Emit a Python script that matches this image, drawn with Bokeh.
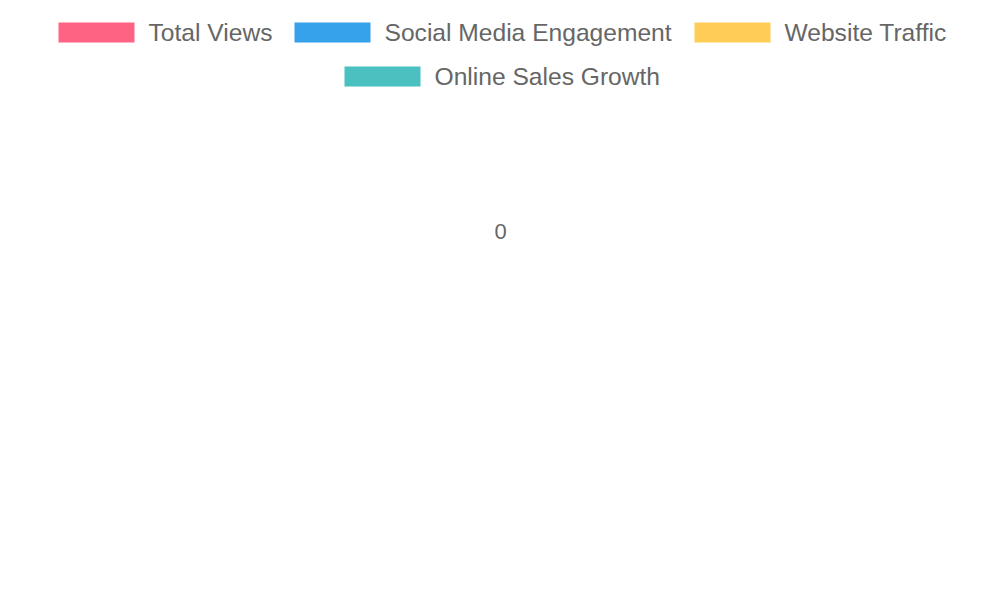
from bokeh.plotting import figure
from bokeh.models import Range1d, ColumnDataSource
from bokeh.core.properties import value
from bokeh.embed import file_html
from bokeh.resources import INLINE

# ---- data ----
series_names = ["Total Views", "Social Media Engagement", "Website Traffic", "Online Sales Growth"]
series_colors = ["#ff6384", "#36a2eb", "#ffcd56", "#4bc0c0"]
radial_tick_labels = ["0"]

# ---- layout (pixel coordinates) ----
legend_box_x = [58, 294, 694, 344]      # left edge of each legend swatch
legend_row_y = [32, 32, 32, 76]         # vertical centre of each legend row
box_w, box_h, text_gap, text_dy = 76, 20, 14, -0.5
center_x, center_y = 500, 231

W, H = 984, 584
p = figure(width=W, height=H, output_backend="svg", toolbar_location=None,
           x_range=Range1d(0, W), y_range=Range1d(H, 0),
           min_border=0, outline_line_color=None)
p.axis.visible = False
p.grid.visible = False
p.background_fill_color = "white"
p.border_fill_color = "white"

src = ColumnDataSource(dict(
    x=[bx + box_w / 2 for bx in legend_box_x],
    tx=[bx + box_w + text_gap for bx in legend_box_x],
    y=legend_row_y,
    ty=[y + text_dy for y in legend_row_y],
    name=series_names,
    color=series_colors,
))
p.rect(x="x", y="y", width=box_w, height=box_h, fill_color="color",
       line_color=None, source=src)
p.text(x="tx", y="ty", text="name", source=src, text_font=value("Liberation Sans"),
       text_font_size="24.6px", text_color="#666666", text_baseline="middle",
       text_align="left")

p.text(x=[center_x], y=[center_y], text=radial_tick_labels,
       text_font=value("Liberation Sans"), text_font_size="22px",
       text_color="#666666", text_baseline="middle", text_align="center")

open("out.html", "w").write(file_html(p, INLINE))
